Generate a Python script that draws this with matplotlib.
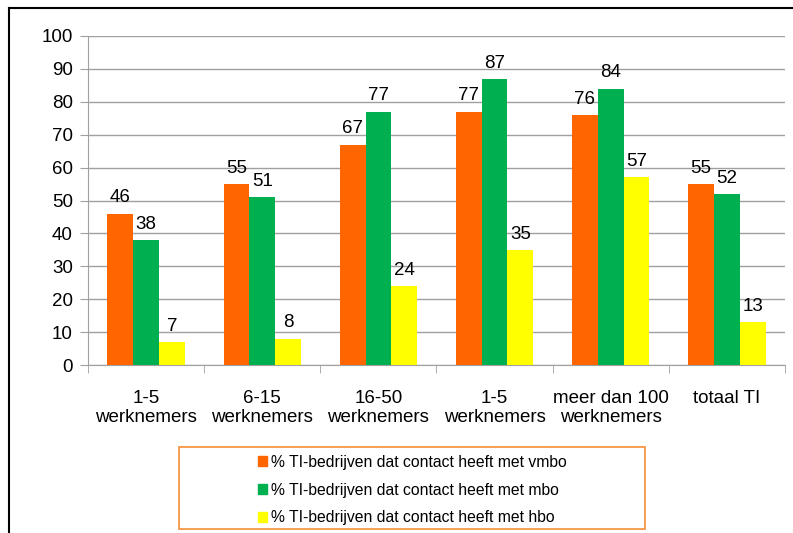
import matplotlib
matplotlib.use("Agg")
import matplotlib.pyplot as plt
import numpy as np
from matplotlib.lines import Line2D
from matplotlib.patches import Rectangle

plt.rcParams['font.family'] = ['Liberation Sans', 'DejaVu Sans']

categories = ["1-5\nwerknemers", "6-15\nwerknemers", "16-50\nwerknemers",
              "1-5\nwerknemers", "meer dan 100\nwerknemers", "totaal TI"]
vmbo = [46, 55, 67, 77, 76, 55]
mbo = [38, 51, 77, 87, 84, 52]
hbo = [7, 8, 24, 35, 57, 13]
series_labels = ["% TI-bedrijven dat contact heeft met vmbo",
                 "% TI-bedrijven dat contact heeft met mbo",
                 "% TI-bedrijven dat contact heeft met hbo"]
colors = ["#FF6600", "#00B050", "#FFFF00"]

W, H = 793, 533
FS = 13.5
fig = plt.figure(figsize=(W / 100, H / 100), dpi=100)
ax = fig.add_axes([88 / W, 1 - 365 / H, (785 - 88) / W, (365 - 36) / H])

x = np.arange(len(categories))
bw = 0.222
series = [vmbo, mbo, hbo]
for i, (vals, c, lab) in enumerate(zip(series, colors, series_labels)):
    bars = ax.bar(x + (i - 1) * bw, vals, width=bw, color=c, label=lab, zorder=3)
    for b, v in zip(bars, vals):
        ax.text(b.get_x() + b.get_width() / 2, v + 2.2, str(v), ha='center',
                va='bottom', fontsize=FS, zorder=4)

ax.set_xlim(-0.5, len(categories) - 0.5)
ax.set_ylim(0, 100)
ax.set_yticks(range(0, 101, 10))
ax.yaxis.grid(True, color='#A0A0A0', linewidth=1, zorder=0)
ax.set_axisbelow(True)
for s in ['top', 'right']:
    ax.spines[s].set_visible(False)
ax.spines['left'].set_color('#A0A0A0')
ax.spines['bottom'].set_color('#A0A0A0')
ax.tick_params(axis='y', length=6, color='#A0A0A0', labelsize=FS, pad=5)
ax.set_xticks(x)
ax.set_xticklabels(categories, fontsize=FS, linespacing=1.12)
ax.tick_params(axis='x', length=0, pad=18)
ax.set_xticks(np.arange(-0.5, len(categories), 1.0), minor=True)
ax.tick_params(axis='x', which='minor', length=6, color='#A0A0A0', direction='out')

# legend frame
fig.add_artist(Rectangle((179 / W, 1 - 529 / H), (645 - 179) / W, (529 - 447) / H,
                         transform=fig.transFigure, fill=False,
                         edgecolor='#F79646', linewidth=1.3))
handles = [plt.Rectangle((0, 0), 1, 1, color=c) for c in colors]
leg = fig.legend(handles, series_labels, loc='center left',
                 bbox_to_anchor=(258 / W, 1 - 490 / H),
                 fontsize=11.3, frameon=False, handlelength=0.55,
                 handleheight=0.55, handletextpad=0.25, labelspacing=0.82,
                 borderpad=0, borderaxespad=0)

# outer frame (partly cropped)
fig.add_artist(Line2D([9 / W, 9 / W], [0, 1 - 8 / H], transform=fig.transFigure,
                      color='black', linewidth=1.5))
fig.add_artist(Line2D([9 / W, 1], [1 - 8 / H, 1 - 8 / H], transform=fig.transFigure,
                      color='black', linewidth=1.5))

fig.savefig("out.png", dpi=100)
